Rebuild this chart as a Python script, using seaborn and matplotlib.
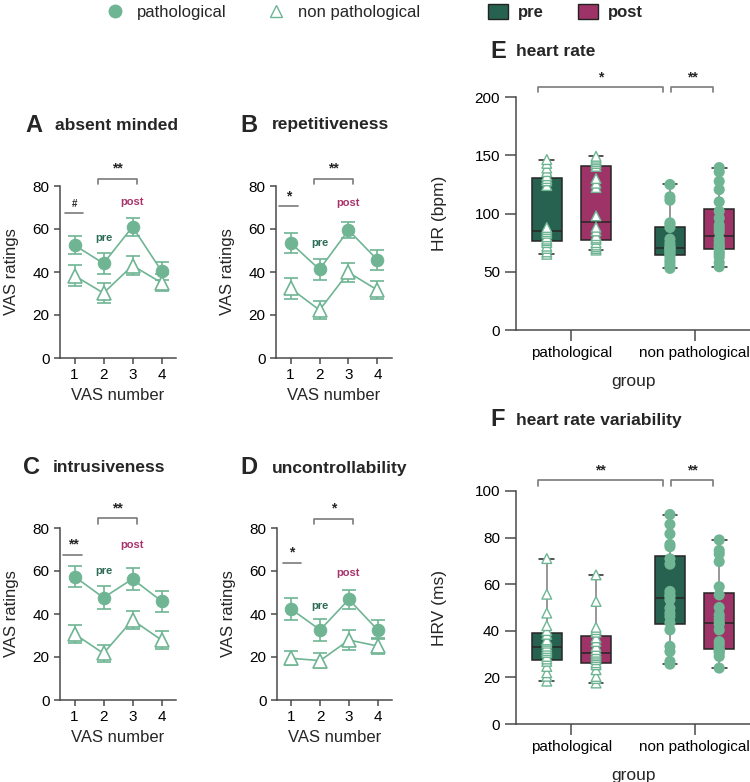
import numpy as np
import pandas as pd
import matplotlib
matplotlib.use("Agg")
import matplotlib.pyplot as plt
from matplotlib.lines import Line2D
from matplotlib.patches import Patch
import seaborn as sns

sns.set_style("ticks")
plt.rcParams['font.family'] = ['Liberation Sans', 'DejaVu Sans']

GREEN = '#6fb594'
PRE = '#27614f'
POST = '#9d3366'
PRE_TXT = '#2b6a55'
POST_TXT = '#a8336b'
AX = '#4a4a4a'
BR = '#7a7a7a'

vas = [1, 2, 3, 4]

# VAS panels: mean and error per VAS number
a_path = [52.5, 44.0, 61.0, 40.5]
a_path_err = [4.3, 4.7, 4.2, 4.2]
a_non = [38.3, 30.2, 43.0, 35.0]
a_non_err = [5.0, 4.5, 4.6, 4.0]

b_path = [53.6, 41.2, 59.5, 45.6]
b_path_err = [4.6, 5.0, 3.9, 4.8]
b_non = [32.4, 22.3, 39.8, 31.6]
b_non_err = [5.0, 4.1, 4.5, 4.3]

c_path = [57.4, 47.6, 56.3, 46.0]
c_path_err = [4.7, 5.2, 5.0, 4.9]
c_non = [30.7, 21.7, 37.2, 27.9]
c_non_err = [4.3, 4.1, 4.0, 4.3]

d_path = [42.2, 32.6, 46.8, 32.6]
d_path_err = [5.2, 5.0, 4.5, 4.4]
d_non = [19.4, 18.3, 27.9, 25.1]
d_non_err = [3.3, 3.6, 4.5, 3.9]

# heart rate (bpm)
hr_path_pre = [65, 67, 70, 72, 75, 76.7, 78, 80, 83, 84.5, 86.3, 88, 124, 128, 130, 132.4, 136, 139, 143, 146.3]
hr_path_post = [68.6, 70, 71.5, 73, 75, 77.8, 79, 81, 85, 88.2, 98, 122.3, 126, 130, 140.5, 142.9, 144.5, 146, 147.5, 149.1]
hr_non_pre = [52.9, 55, 57.5, 60, 63, 65.1, 66, 67.5, 69, 70, 70.6, 72, 74.5, 78, 88, 90.4, 92, 111.4, 114.3, 124.9]
hr_non_post = [54.3, 58, 62.6, 65, 67, 69.8, 71, 73, 75, 78, 84.2, 87, 90, 96, 102, 110, 120.5, 127.6, 135.7, 139.4]

# heart rate variability (ms)
hrv_path_pre = [18.4, 20.5, 22, 24.7, 26.9, 27.9, 29, 30.7, 31.5, 32.4, 33.4, 34.7, 35.5, 36.1, 38.5, 40.1, 42.2, 47.6, 55.7, 71]
hrv_path_post = [17.6, 19.5, 20.4, 23.3, 25.4, 26.3, 27.6, 28.5, 29.3, 30, 30.8, 31.9, 33.3, 35.4, 37, 39.4, 40.5, 41.5, 52.6, 64]
hrv_non_pre = [25.7, 26.9, 31.1, 33.3, 40.4, 43.5, 46.1, 47.6, 49.7, 53.3, 54.7, 55.4, 56.9, 68.6, 70.9, 76.1, 77.1, 81.6, 85.7, 89.9]
hrv_non_post = [24, 29, 30.4, 31.2, 31.8, 32.2, 34, 35.4, 40.4, 42.8, 43.8, 45.4, 46.9, 50, 55.4, 58.9, 69.7, 73, 74.5, 79]

groups = ['pathological', 'non pathological']
phases = ['pre', 'post']

W, H = 750, 782
fig = plt.figure(figsize=(W / 100, H / 100), dpi=100)


def px_axes(l, t, r, b):
    return fig.add_axes([l / W, 1 - b / H, (r - l) / W, (b - t) / H])


def style_axes(ax, ticklen):
    sns.despine(ax=ax)
    for s in ['left', 'bottom']:
        ax.spines[s].set_color(AX)
        ax.spines[s].set_linewidth(1.1)
    ax.tick_params(colors=AX, labelcolor='black', length=ticklen, width=1.1)


def vas_panel(ax, path, path_err, non, non_err, left_star, left_y, left_x, br_star, br_y, pre_y, post_y):
    df = pd.DataFrame({'vas': vas * 2, 'rating': path + non,
                       'group': ['pathological'] * 4 + ['non pathological'] * 4})
    ax.errorbar(vas, path, yerr=path_err, fmt='none', ecolor=GREEN, elinewidth=1.2, capsize=5, capthick=1.2, zorder=2)
    ax.errorbar(vas, non, yerr=non_err, fmt='none', ecolor=GREEN, elinewidth=1.2, capsize=5, capthick=1.2, zorder=2)
    sns.lineplot(data=df[df.group == 'non pathological'], x='vas', y='rating', color=GREEN, lw=1.2,
                 marker='^', markersize=10, markerfacecolor='white', markeredgecolor=GREEN,
                 markeredgewidth=1.2, ax=ax, zorder=3)
    sns.lineplot(data=df[df.group == 'pathological'], x='vas', y='rating', color=GREEN, lw=1.2,
                 marker='o', markersize=9, markeredgecolor=GREEN, ax=ax, zorder=4)
    ax.set_xlim(0.5, 4.5)
    ax.set_ylim(0, 80)
    ax.set_xticks(vas)
    ax.set_yticks([0, 20, 40, 60, 80])
    ax.tick_params(labelsize=11)
    ax.set_xlabel('VAS number', fontsize=12)
    ax.set_ylabel('VAS ratings', fontsize=12, labelpad=10)
    style_axes(ax, 4)
    ax.plot(left_x, [left_y, left_y], color=BR, lw=1.2, clip_on=False)
    ax.text(np.mean(left_x), left_y + 1.5, left_star, ha='center', va='bottom',
            fontsize=10 if left_star != '#' else 7, fontweight='bold')
    ax.plot([1.8, 1.8, 3.15, 3.15], [br_y - 2.5, br_y, br_y, br_y - 2.5], color=BR, lw=1.2, clip_on=False)
    ax.text(2.475, br_y + 1.5, br_star, ha='center', va='bottom', fontsize=10, fontweight='bold')
    ax.text(2.0, pre_y, 'pre', color=PRE_TXT, ha='center', va='center', fontsize=8, fontweight='bold')
    ax.text(2.98, post_y, 'post', color=POST_TXT, ha='center', va='center', fontsize=8, fontweight='bold')


def long_df(pp, ppo, npre, npo, col):
    rows = []
    for g, ph, vals in [('pathological', 'pre', pp), ('pathological', 'post', ppo),
                        ('non pathological', 'pre', npre), ('non pathological', 'post', npo)]:
        for v in vals:
            rows.append((g, ph, v))
    return pd.DataFrame(rows, columns=['group', 'phase', col])


def box_panel(ax, df, col, ylim, yticks, ylabel, br_y, tick_h, stars):
    sns.boxplot(data=df, x='group', y=col, hue='phase', order=groups, hue_order=phases,
                palette={'pre': PRE, 'post': POST}, whis=(0, 100), width=0.8, gap=0.4,
                linecolor='#262626', linewidth=1.1, fliersize=0, saturation=1, legend=False, ax=ax,
                whiskerprops={'color': '#7a7a7a'})
    sns.stripplot(data=df[df.group == 'pathological'], x='group', y=col, hue='phase',
                  order=groups, hue_order=phases, palette={'pre': 'white', 'post': 'white'},
                  marker='^', size=7, edgecolor=GREEN, linewidth=1, jitter=False, dodge=True,
                  legend=False, ax=ax, zorder=5)
    sns.stripplot(data=df[df.group == 'non pathological'], x='group', y=col, hue='phase',
                  order=groups, hue_order=phases, palette={'pre': GREEN, 'post': GREEN},
                  marker='o', size=8, jitter=False, dodge=True, legend=False, ax=ax, zorder=5)
    ax.set_xlim(-0.45, 1.45)
    ax.set_ylim(*ylim)
    ax.set_yticks(yticks)
    ax.tick_params(labelsize=11)
    ax.set_xlabel('group', fontsize=12.5, labelpad=10)
    ax.set_ylabel(ylabel, fontsize=12.5, labelpad=20)
    style_axes(ax, 8)
    for (x0, x1), s in zip([(-0.27, 0.74), (0.81, 1.15)], stars):
        ax.plot([x0, x0, x1, x1], [br_y - tick_h, br_y, br_y, br_y - tick_h], color=BR, lw=1.2, clip_on=False)
        ax.text((x0 + x1) / 2, br_y + tick_h * 0.4, s, ha='center', va='bottom', fontsize=10, fontweight='bold')


axA = px_axes(60, 186, 176, 358)
vas_panel(axA, a_path, a_path_err, a_non, a_non_err, '#', 67.6, [0.66, 1.31], '**', 83.3, 56, 72.5)
axB = px_axes(276, 186, 392, 358)
vas_panel(axB, b_path, b_path_err, b_non, b_non_err, '*', 70.5, [0.62, 1.27], '**', 83.3, 53.6, 72.2)
axC = px_axes(60, 528, 176, 700)
vas_panel(axC, c_path, c_path_err, c_non, c_non_err, '**', 67.4, [0.62, 1.27], '**', 84.5, 60, 72)
axD = px_axes(277, 528, 392, 700)
vas_panel(axD, d_path, d_path_err, d_non, d_non_err, '*', 63.9, [0.7, 1.35], '*', 84.2, 43.7, 59.2)

axE = px_axes(516, 97, 750, 330)
box_panel(axE, long_df(hr_path_pre, hr_path_post, hr_non_pre, hr_non_post, 'hr'), 'hr',
          (0, 200), [0, 50, 100, 150, 200], 'HR (bpm)', 209, 5, ['*', '**'])
axF = px_axes(516, 491, 750, 724)
box_panel(axF, long_df(hrv_path_pre, hrv_path_post, hrv_non_pre, hrv_non_post, 'hrv'), 'hrv',
          (0, 100), [0, 20, 40, 60, 80, 100], 'HRV (ms)', 104.7, 2.5, ['**', '**'])

# panel letters and titles
titles = [('A', 'absent minded', 25, 55, 125), ('B', 'repetitiveness', 240, 272, 125),
          ('C', 'intrusiveness', 23, 53, 468), ('D', 'uncontrollability', 240, 272, 468),
          ('E', 'heart rate', 490, 516, 52), ('F', 'heart rate variability', 490, 516, 420)]
for letter, name, lx, tx, ty in titles:
    fig.text(lx / W, 1 - ty / H, letter, fontsize=17, fontweight='bold', va='center', ha='left')
    fig.text(tx / W, 1 - ty / H, name, fontsize=12.5, fontweight='bold', va='center', ha='left')

# legends
h1 = [Line2D([], [], ls='none', marker='o', markersize=9, color=GREEN),
      Line2D([], [], ls='none', marker='^', markersize=9, markerfacecolor='white', markeredgecolor=GREEN)]
fig.legend(h1, groups, loc='center left', bbox_to_anchor=(90 / W, 1 - 12 / H), ncol=2, frameon=False,
           fontsize=12, handletextpad=0.3, columnspacing=2.0, borderpad=0)
h2 = [Patch(facecolor=PRE, edgecolor='#222'), Patch(facecolor=POST, edgecolor='#222')]
fig.legend(h2, phases, loc='center left', bbox_to_anchor=(480 / W, 1 - 12 / H), ncol=2, frameon=False,
           prop={'size': 12, 'weight': 'bold'}, handlelength=1.2, handleheight=1.0,
           handletextpad=0.6, columnspacing=2.0, borderpad=0)

fig.savefig('out.png', dpi=100)
